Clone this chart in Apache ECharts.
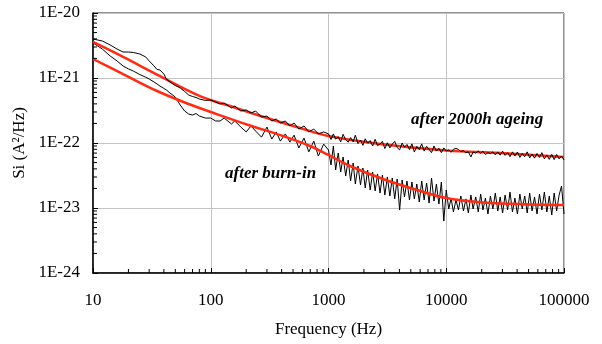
<!DOCTYPE html>
<html>
<head>
<meta charset="utf-8">
<script src="https://cdn.jsdelivr.net/npm/echarts@6/dist/echarts.min.js"></script>
<style>
  html, body { margin: 0; padding: 0; background: #fff; }
  #chart { width: 602px; height: 344px; }
</style>
</head>
<body>
<div id="chart"></div>
<script>
  // values are in units of 1e-23 A^2/Hz (the y axis works in these units,
  // labels are written back as powers of ten)
  const UNIT_EXP = -23;

  // 10 - 90 Hz (smooth part)
  const lowFreq = [10, 12, 14, 16, 18, 20, 22, 25, 28, 30, 33, 35, 37, 38, 40, 42, 45, 50, 55, 60, 65, 70, 75, 80, 90];
  const ageLow = [398, 371, 322, 279, 251, 251, 247, 234, 211, 183, 153, 135, 133, 138, 115, 96.5, 86.8, 76.7, 70.2, 62.0, 54.7, 51.9, 50.1, 47.5, 45.1];
  const burnLow = [346, 279, 218, 183, 153, 138, 128, 113, 103, 96.5, 86.8, 80.8, 75.3, 72.7, 69.0, 65.4, 58.8, 51.0, 38.4, 31.1, 27.9, 26.9, 28.4, 26.0, 24.2];

  // 100 - 910 Hz
  const midFreq = [100, 110, 120, 130, 150, 160, 180, 200, 220, 240, 270, 300, 330, 360, 390, 430, 470, 510, 560, 620, 680, 750, 820, 910];
  const ageMid = [45.9, 42.7, 39.8, 41.2, 34.6, 37.1, 31.1, 32.2, 28.9, 31.1, 25.1, 26.0, 21.8, 23.4, 20.3, 21.8, 18.3, 20.3, 16.4, 18.3, 14.8, 16.4, 13.8, 14.8];
  const burnMid = [24.2, 21.8, 21.8, 24.2, 19.6, 21.8, 17.6, 14.8, 18.3, 15.3, 12.3, 17.6, 11.5, 14.8, 10.7, 13.8, 10.3, 13.2, 8.4, 11.9, 7.3, 10.7, 6.3, 9.6];

  // 1 kHz - 100 kHz, E48 steps per decade
  const e48 = [1.00, 1.05, 1.10, 1.15, 1.21, 1.27, 1.33, 1.40, 1.47, 1.54, 1.62, 1.69, 1.78, 1.87, 1.96, 2.05,
               2.15, 2.26, 2.37, 2.49, 2.61, 2.74, 2.87, 3.01, 3.16, 3.32, 3.48, 3.65, 3.83, 4.02, 4.22, 4.42,
               4.64, 4.87, 5.11, 5.36, 5.62, 5.90, 6.19, 6.49, 6.81, 7.15, 7.50, 7.87, 8.25, 8.66, 9.09, 9.53];
  const hiFreq = [1000, 10000].flatMap(d => e48.map(m => m * d)).concat([100000]);

  const ageHigh = [
    // 1k - 10k
    13.8, 11.3, 13.8, 11.5, 12.5, 10.4, 13.6, 11.2, 10.3, 12.1, 10.4, 13.2, 9.8, 11.1, 9.2, 11.6,
    9.95, 10.9, 9.0, 11.4, 9.1, 9.65, 10.6, 8.2, 10.1, 8.4, 9.6, 10.6, 8.5, 7.85, 10.0, 8.6,
    9.5, 7.9, 9.7, 7.25, 8.9, 7.9, 9.7, 7.5, 8.9, 7.95, 7.1, 9.0, 7.5, 8.3, 7.1, 8.4,
    // 10k - 100k
    7.53, 7.8, 7.2, 8.0, 8.25, 7.95, 7.35, 7.6, 7.1, 7.3, 6.1, 7.27, 7.0, 7.5, 6.95, 7.45,
    6.65, 7.1, 6.85, 7.3, 6.57, 7.3, 6.5, 7.5, 6.45, 7.1, 6.15, 7.3, 6.3, 7.25, 6.0, 6.9,
    6.15, 7.3, 5.9, 6.75, 5.85, 6.9, 6.0, 7.1, 5.7, 6.55, 5.6, 6.7, 5.55, 6.65, 5.7, 6.3,
    5.48
  ];
  const burnHigh = [
    // 1k - 10k
    7.80, 4.59, 8.99, 3.84, 7.02, 3.58, 6.09, 3.11, 5.48, 2.60, 4.92, 2.34, 4.43, 2.26, 4.12, 2.03,
    3.84, 1.89, 3.58, 1.83, 3.34, 1.70, 3.22, 1.58, 3.00, 1.53, 2.89, 1.38, 2.79, 0.93, 2.70, 1.48,
    2.60, 1.33, 2.51, 1.38, 2.34, 1.24, 2.60, 1.33, 2.42, 1.19, 2.89, 1.28, 2.34, 1.15, 2.51, 0.63,
    // 10k - 100k
    1.89, 0.965, 1.42, 0.868, 1.33, 0.932, 1.53, 0.899, 1.38, 0.838, 1.58, 0.965, 1.48, 0.868, 1.64, 0.932,
    1.42, 0.808, 1.53, 0.965, 1.70, 0.899, 1.48, 0.838, 1.58, 0.932, 1.76, 0.868, 1.42, 0.808, 1.64, 0.965,
    1.53, 0.838, 1.70, 0.899, 1.48, 0.808, 1.64, 0.932, 1.76, 0.868, 1.53, 0.780, 1.70, 0.899, 1.58, 2.18,
    0.808
  ];

  // fitted curves (red)
  const ageFitFreq = [10, 18, 35, 81, 155, 300, 573, 1000, 2735, 10000, 28600, 100000];
  const ageFit = [358, 211, 113, 52.8, 35.8, 24.2, 17.0, 12.8, 9.65, 7.66, 7.02, 6.09];
  const burnFitFreq = [10, 18, 35, 66.7, 100, 215, 411, 697, 1000, 1524, 2900, 5650, 10000, 20500, 100000];
  const burnFit = [196, 115, 63.1, 39.1, 30.0, 18.6, 12.8, 8.99, 6.54, 4.43, 2.79, 1.89, 1.42, 1.22, 1.11];

  // minor log ticks
  const minorMant = [2, 3, 4, 5, 6, 7, 8, 9];
  const xDecades = [10, 100, 1000, 10000];
  const yDecades = [0.1, 1, 10, 100];   // 1E-24 .. 1E-21

  const serif = '"Liberation Serif", "Times New Roman", serif';

  function pairs(freqs, vals) {
    return freqs.map((f, i) => [f, vals[i]]);
  }

  let ageData = pairs(lowFreq, ageLow).concat(pairs(midFreq, ageMid), pairs(hiFreq, ageHigh));
  let burnData = pairs(lowFreq, burnLow).concat(pairs(midFreq, burnMid), pairs(hiFreq, burnHigh));

  let xMinor = [];
  xDecades.forEach(d => minorMant.forEach(m => xMinor.push([m * d, 0.1])));
  let yMinor = [];
  yDecades.forEach(d => minorMant.forEach(m => yMinor.push([10, m * d])));

  let myChart = echarts.init(document.getElementById('chart'));

  myChart.setOption({
    animation: false,
    backgroundColor: '#fff',
    grid: {
      left: 93, top: 13, right: 38, bottom: 71,
      show: true,
      borderColor: '#222',
      borderWidth: 1
    },
    xAxis: {
      type: 'log',
      logBase: 10,
      min: 10,
      max: 100000,
      name: 'Frequency (Hz)',
      nameLocation: 'middle',
      nameGap: 48,
      nameTextStyle: { fontFamily: serif, fontSize: 17, color: '#000' },
      axisLine: { show: true, lineStyle: { color: '#000', width: 1.5 } },
      axisTick: { show: true, inside: true, length: 5, lineStyle: { color: '#000' } },
      minorTick: { show: false },
      splitLine: { show: true, lineStyle: { color: '#c4c4c4', width: 1 } },
      axisLabel: {
        margin: 19,
        fontFamily: serif,
        fontSize: 17,
        color: '#000',
        formatter: function (v) { return String(Math.round(v)); }
      }
    },
    yAxis: {
      type: 'log',
      logBase: 10,
      min: 0.1,
      max: 1000,
      name: 'Si (A\u00B2/Hz)',
      nameLocation: 'middle',
      nameGap: 60,
      nameTextStyle: { fontFamily: serif, fontSize: 17, color: '#000' },
      axisLine: { show: true, lineStyle: { color: '#000', width: 1.5 } },
      axisTick: { show: true, inside: true, length: 5, lineStyle: { color: '#000' } },
      minorTick: { show: false },
      splitLine: { show: true, lineStyle: { color: '#c4c4c4', width: 1 } },
      axisLabel: {
        margin: 13,
        fontFamily: serif,
        fontSize: 17,
        color: '#000',
        formatter: function (v) { return '1E' + (Math.round(Math.log10(v)) + UNIT_EXP); }
      }
    },
    graphic: [
      {
        type: 'text', left: 411, top: 111, z: 100,
        style: { text: 'after 2000h ageing', font: 'italic bold 17px ' + serif, fill: '#000' }
      },
      {
        type: 'text', left: 225, top: 165, z: 100,
        style: { text: 'after burn-in', font: 'italic bold 17px ' + serif, fill: '#000' }
      }
    ],
    series: [
      {
        name: 'after burn-in',
        type: 'line',
        data: burnData,
        showSymbol: false,
        symbol: 'none',
        z: 2,
        lineStyle: { color: '#000', width: 1 }
      },
      {
        name: 'burn-in fit',
        type: 'line',
        data: pairs(burnFitFreq, burnFit),
        smooth: 0.4,
        showSymbol: false,
        symbol: 'none',
        z: 3,
        lineStyle: { color: '#ff2b12', width: 2.5 }
      },
      {
        name: 'ageing fit',
        type: 'line',
        data: pairs(ageFitFreq, ageFit),
        smooth: 0.4,
        showSymbol: false,
        symbol: 'none',
        z: 4,
        lineStyle: { color: '#ff2b12', width: 2.5 }
      },
      {
        name: 'after 2000h ageing',
        type: 'line',
        data: ageData,
        showSymbol: false,
        symbol: 'none',
        z: 5,
        lineStyle: { color: '#000', width: 1 }
      },
      {
        // minor ticks on the frequency axis
        type: 'custom',
        silent: true,
        z: 6,
        data: xMinor,
        renderItem: function (params, api) {
          let p = api.coord([api.value(0), api.value(1)]);
          return {
            type: 'line',
            shape: { x1: p[0], y1: p[1], x2: p[0], y2: p[1] - 4 },
            style: { stroke: '#000', lineWidth: 1 }
          };
        }
      },
      {
        // minor ticks on the Si axis
        type: 'custom',
        silent: true,
        z: 6,
        data: yMinor,
        renderItem: function (params, api) {
          let p = api.coord([api.value(0), api.value(1)]);
          return {
            type: 'line',
            shape: { x1: p[0], y1: p[1], x2: p[0] + 4, y2: p[1] },
            style: { stroke: '#000', lineWidth: 1 }
          };
        }
      }
    ]
  });
</script>
</body>
</html>
